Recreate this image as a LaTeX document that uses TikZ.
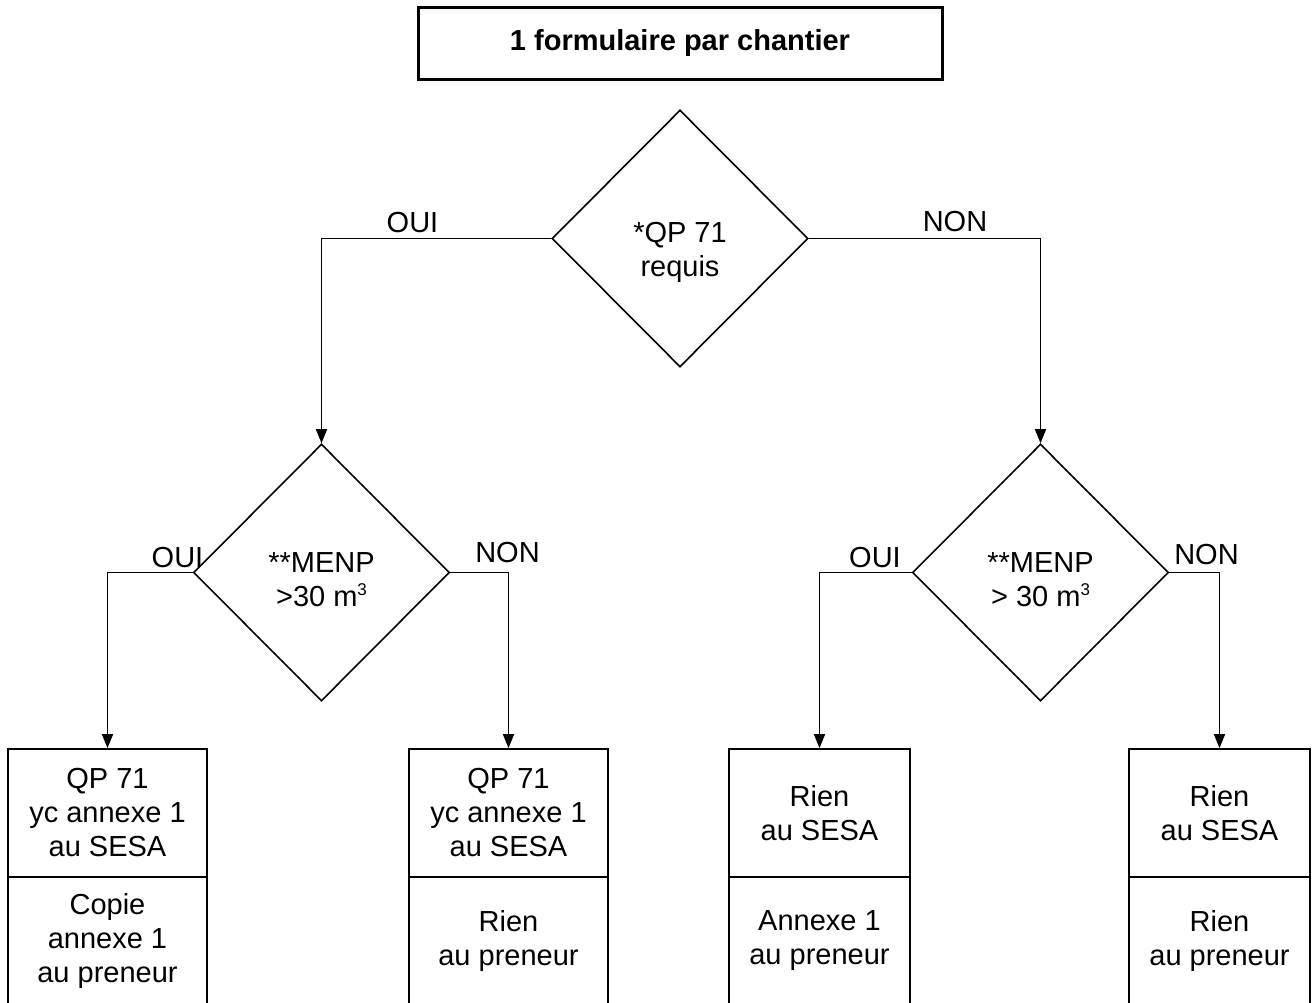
\documentclass[tikz,border=0pt]{standalone}
\usepackage{fontspec}
\setmainfont{Liberation Sans}
\usetikzlibrary{shapes.geometric,arrows.meta}
\newcommand{\cubesup}{\raisebox{11.5pt}{\fontsize{17}{17}\selectfont 3}}
\begin{document}
\begin{tikzpicture}[x=1pt,y=-1pt,
  txt/.style={font=\fontsize{29}{34}\selectfont, align=center, inner sep=0pt},
  lbl/.style={font=\fontsize{29}{34}\selectfont, inner sep=0pt, anchor=base},
  dia/.style={draw, shape=diamond, minimum width=256pt, minimum height=257pt, inner sep=0pt, line width=1.6pt},
  boxw/.style={draw, line width=1.8pt, minimum width=199pt, minimum height=128pt, inner sep=0pt,
    font=\fontsize{29}{34}\selectfont, align=center},
  boxn/.style={boxw, minimum width=181pt},
  conn/.style={line width=1.6pt, -{Triangle[length=14pt,width=11pt]}},
  titlebox/.style={draw, line width=3pt, minimum width=524pt, minimum height=72pt, inner sep=0pt,
    font=\bfseries\fontsize{29}{34}\selectfont}
]
\useasboundingbox (0,0) rectangle (1314,1002);
\clip (0,0) rectangle (1314,1002);

\node[titlebox] (title) at (680,43) {1 formulaire par chantier};

\node[dia] (d1) at (680,238.5) {};
\node[txt] (d1t) at (680,252) {*QP 71\\requis};

\node[dia] (d2) at (321.5,572.5) {};
\node[txt] (d2t) at (321.5,580) {**MENP\\>30 m\cubesup};

\node[dia] (d3) at (1040.5,572.5) {};
\node[txt] (d3t) at (1040.5,580) {**MENP\\> 30 m\cubesup};

\node[boxw] (b1a) at (107.5,813) {QP 71\\yc annexe 1\\au SESA};
\node[boxw] (b1b) at (107.5,941) {Copie\\annexe 1\\au preneur};
\node[boxw] (b2a) at (508.5,813) {QP 71\\yc annexe 1\\au SESA};
\node[boxw] (b2b) at (508.5,941) {Rien\\au preneur};
\node[boxn] (b3a) at (819.5,813) {Rien\\au SESA};
\node[boxn] (b3b) at (819.5,941) {Annexe 1\\au preneur};
\node[boxn] (b4a) at (1219.5,813) {Rien\\au SESA};
\node[boxn] (b4b) at (1219.5,941) {Rien\\au preneur};

\draw[conn] (d1.west) -| (d2.north);
\draw[conn] (d1.east) -| (d3.north);
\draw[conn] (d2.west) -| (b1a.north);
\draw[conn] (d2.east) -| (b2a.north);
\draw[conn] (d3.west) -| (b3a.north);
\draw[conn] (d3.east) -| (b4a.north);

\node[lbl] (l1) at (412.5,232) {OUI};
\node[lbl] (l2) at (955,231) {NON};
\node[lbl] (l3) at (177.5,567) {OUI};
\node[lbl] (l4) at (507.5,562) {NON};
\node[lbl] (l5) at (875,567) {OUI};
\node[lbl] (l6) at (1206.5,564) {NON};
\end{tikzpicture}
\end{document}
